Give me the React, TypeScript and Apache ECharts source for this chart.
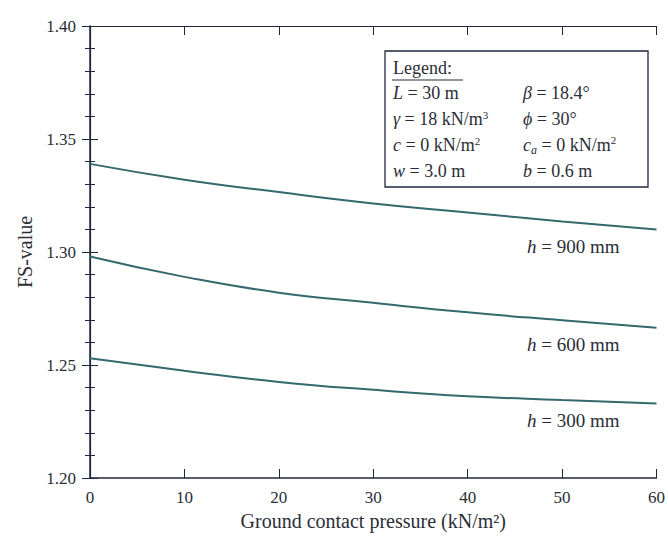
import React, { useEffect, useRef } from "react";
import * as echarts from "echarts";

const pressures = [0, 10, 20, 30, 40, 50, 60];
const fs900 = [1.339, 1.332, 1.3265, 1.3215, 1.3175, 1.3135, 1.31];
const fs600 = [1.298, 1.289, 1.282, 1.2775, 1.2733, 1.2698, 1.2665];
const fs300 = [1.253, 1.2475, 1.2425, 1.239, 1.2362, 1.2345, 1.233];
const curveNames = ["900", "600", "300"];
const yTicks = [1.2, 1.25, 1.3, 1.35, 1.4];

const FONT = "Liberation Serif";
const TXT = "#2b2d36";
const AXIS = "#1f2840";
const LINE = "#34696d";

export default function App() {
  const ref = useRef<HTMLDivElement>(null);
  useEffect(() => {
    if (!ref.current) return;
    const chart = echarts.init(ref.current, null, { renderer: "svg" });
    const seriesVals = [fs900, fs600, fs300];
    const series = seriesVals.map((vals, k) => ({
      type: "line",
      name: "h = " + curveNames[k] + " mm",
      smooth: true,
      showSymbol: false,
      symbol: "none",
      lineStyle: { color: LINE, width: 2 },
      endLabel: {
        show: true,
        align: "right",
        verticalAlign: "middle",
        offset: [-45, 17],
        formatter: "{i|h} = " + curveNames[k] + " mm",
        fontFamily: FONT,
        fontSize: 19,
        color: TXT,
        rich: {
          i: { fontStyle: "italic", fontFamily: FONT, fontSize: 19, color: TXT },
        },
      },
      data: vals.map((v, i) => [pressures[i], v]),
    }));

    const lx = 393;
    const rx = 523;
    const rowY = [93, 119, 145, 171];
    const it = { fontStyle: "italic", fontFamily: FONT, fontSize: 18, fill: TXT };
    const sup = { fontFamily: FONT, fontSize: 11, fill: TXT, verticalAlign: "top", padding: [0, 0, 9, 0] };
    const sub = { fontStyle: "italic", fontFamily: FONT, fontSize: 12, fill: TXT, padding: [9, 0, 0, 0] };
    const mkText = (x: number, y: number, text: string) => ({
      type: "text",
      x,
      y,
      z: 20,
      style: {
        text,
        fontFamily: FONT,
        fontSize: 18,
        fill: TXT,
        verticalAlign: "middle",
        rich: { i: it, s: sup, b: sub },
      },
    });

    chart.setOption({
      animation: false,
      backgroundColor: "#ffffff",
      grid: { left: 90, right: 9, top: 26, bottom: 64 },
      xAxis: [
        {
          type: "value",
          min: 0,
          max: 60,
          interval: 10,
          name: "Ground contact pressure (kN/m²)",
          nameLocation: "middle",
          nameGap: 31,
          nameTextStyle: { fontFamily: FONT, fontSize: 20, color: TXT },
          axisLine: { show: true, lineStyle: { color: AXIS, width: 1.5 } },
          axisTick: { show: true, inside: true, length: 9, lineStyle: { color: AXIS } },
          axisLabel: { fontFamily: FONT, fontSize: 17, color: TXT, margin: 11 },
          splitLine: { show: false },
        },
        {
          type: "value",
          position: "top",
          min: 0,
          max: 60,
          interval: 10,
          axisLine: { show: true, lineStyle: { color: AXIS, width: 1.2 } },
          axisTick: { show: true, inside: true, length: 9, lineStyle: { color: AXIS } },
          axisLabel: { show: false },
          splitLine: { show: false },
        },
      ],
      yAxis: [
        {
          type: "value",
          min: 1.2,
          max: 1.4,
          interval: 0.05,
          name: "FS-value",
          nameLocation: "middle",
          nameGap: 53,
          nameTextStyle: { fontFamily: FONT, fontSize: 20, color: TXT },
          axisLine: { show: true, lineStyle: { color: AXIS, width: 1.5 } },
          axisTick: { show: true, inside: true, length: 8, lineStyle: { color: AXIS } },
          minorTick: { show: true, splitNumber: 5, length: 5, lineStyle: { color: AXIS } },
          axisLabel: {
            fontFamily: FONT,
            fontSize: 17,
            color: TXT,
            margin: 14,
            formatter: (v: number) => {
              const t = yTicks.find((q) => Math.abs(q - v) < 1e-6);
              return t !== undefined ? t.toFixed(2) : "";
            },
          },
          splitLine: { show: false },
        },
        {
          type: "value",
          position: "right",
          min: 1.2,
          max: 1.4,
          interval: 0.05,
          axisLine: { show: true, lineStyle: { color: AXIS, width: 1.2 } },
          axisTick: { show: true, inside: true, length: 8, lineStyle: { color: AXIS } },
          minorTick: { show: true, splitNumber: 5, length: 5, lineStyle: { color: AXIS } },
          axisLabel: { show: false },
          splitLine: { show: false },
        },
      ],
      series,
      graphic: [
        {
          type: "rect",
          z: 10,
          shape: { x: 385, y: 51, width: 263, height: 136 },
          style: { fill: "#ffffff", stroke: AXIS, lineWidth: 1.3 },
        },
        mkText(lx, 68, "Legend:"),
        {
          type: "line",
          z: 20,
          shape: { x1: lx - 1, y1: 80, x2: lx + 70, y2: 80 },
          style: { stroke: TXT, lineWidth: 1.2 },
        },
        mkText(lx, rowY[0], "{i|L} = 30 m"),
        mkText(lx, rowY[1], "{i|γ} = 18 kN/m{s|3}"),
        mkText(lx, rowY[2], "{i|c} = 0 kN/m{s|2}"),
        mkText(lx, rowY[3], "{i|w} = 3.0 m"),
        mkText(rx, rowY[0], "{i|β} = 18.4°"),
        mkText(rx, rowY[1], "{i|ϕ} = 30°"),
        mkText(rx, rowY[2], "{i|c}{b|a} = 0 kN/m{s|2}"),
        mkText(rx, rowY[3], "{i|b} = 0.6 m"),
      ],
    });
    return () => chart.dispose();
  }, []);
  return (
    <div
      ref={ref}
      style={{ position: "fixed", left: 0, top: 0, width: 668, height: 542, background: "#fff" }}
    />
  );
}
